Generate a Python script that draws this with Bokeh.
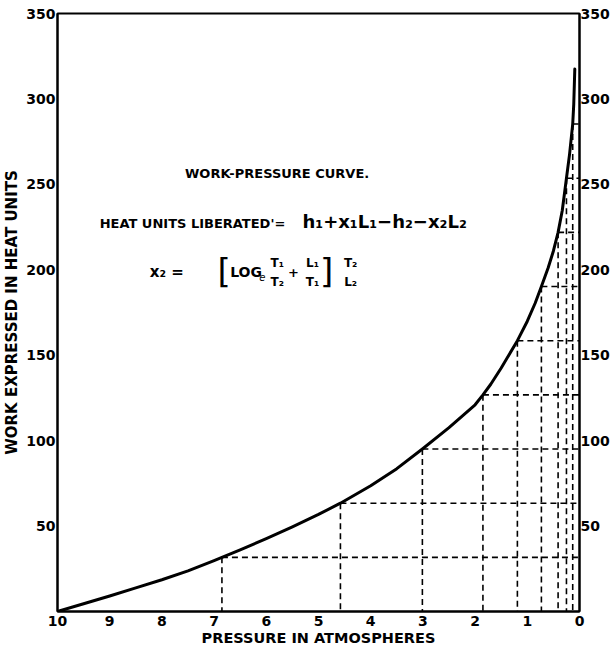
from bokeh.plotting import figure
from bokeh.models import Range1d, LinearAxis, FixedTicker, Label, ColumnDataSource
from bokeh.embed import file_html
from bokeh.resources import INLINE

# ---- data ----
pressure = [10, 9.5, 9, 8.5, 8, 7.5, 7, 6.85, 6.5, 6, 5.5, 5, 4.58, 4, 3.5, 3.01, 2.5, 2.0, 1.85,
            1.7, 1.5, 1.19, 1.0, 0.85, 0.73, 0.6, 0.5, 0.41, 0.33, 0.25, 0.19, 0.13, 0.11, 0.09]
work = [0, 4.5, 9.1, 13.8, 18.6, 23.8, 29.8, 31.7, 36.1, 42.6, 49.5, 56.8, 63.4, 73.6, 83.6, 95.1, 107.6, 121.0, 126.8,
        133.0, 142.5, 158.5, 169.9, 180.4, 190.2, 201.2, 211, 221.9, 234.7, 253.6, 267.7, 285.3, 297, 317.5]

grid_pressure = [6.85, 4.58, 3.01, 1.85, 1.19, 0.73, 0.41, 0.25, 0.13]
grid_work = [31.7, 63.4, 95.1, 126.8, 158.5, 190.2, 221.9, 253.6, 285.3]
grid_axis = [0] * len(grid_pressure)

x_ticks = [0, 1, 2, 3, 4, 5, 6, 7, 8, 9, 10]
y_ticks = [50, 100, 150, 200, 250, 300, 350]

FONT = "DejaVu Sans"

p = figure(width=612, height=649, x_range=Range1d(10, 0), y_range=Range1d(0, 350),
           output_backend="svg", toolbar_location=None,
           min_border_left=48, min_border_right=32, min_border_top=13, min_border_bottom=38)
p.background_fill_color = "white"
p.border_fill_color = "white"
p.outline_line_color = "black"
p.outline_line_width = 2
p.xgrid.visible = False
p.ygrid.visible = False

def style_axis(ax, ticks):
    ax.ticker = FixedTicker(ticks=ticks)
    ax.major_tick_in = 0
    ax.major_tick_out = 0
    ax.minor_tick_in = 0
    ax.minor_tick_out = 0
    ax.axis_line_color = "black"
    ax.axis_line_width = 2
    ax.major_label_text_font = FONT
    ax.major_label_text_font_style = "bold"
    ax.major_label_text_font_size = "14px"
    ax.major_label_text_color = "black"
    ax.major_label_standoff = 2
    ax.axis_label_text_font = FONT
    ax.axis_label_text_font_style = "bold"
    ax.axis_label_text_font_size = "14.5px"
    ax.axis_label_text_color = "black"
    ax.axis_label_standoff = 3

style_axis(p.xaxis[0], x_ticks)
p.xaxis[0].axis_label = "PRESSURE IN ATMOSPHERES"
p.xaxis[0].major_label_standoff = 4
p.xaxis[0].axis_label_standoff = 1
style_axis(p.yaxis[0], y_ticks)
p.yaxis[0].axis_label = "WORK EXPRESSED IN HEAT UNITS"
p.yaxis[0].axis_label_text_font_size = "15px"
p.yaxis[0].axis_label_standoff = 2

right = LinearAxis()
style_axis(right, y_ticks)
right.major_label_standoff = 1
p.add_layout(right, "right")

# dashed construction lines
gsrc = ColumnDataSource(dict(p=grid_pressure, w=grid_work, z=grid_axis))
p.segment(x0="p", y0="w", x1="z", y1="w", source=gsrc, line_color="black",
          line_width=1.6, line_dash="6 4")
p.segment(x0="p", y0="w", x1="p", y1="z", source=gsrc, line_color="black",
          line_width=1.6, line_dash="6 4")

# curve
p.line(pressure, work, line_color="black", line_width=3, line_join="round", line_cap="round")

# annotations (positions converted from reference pixels)
def dx(px):
    return (578 - px) / 52.0

def dy(py):
    return (610 - py) / 1.703

def lab(text, px, py, size, style="bold", align="left"):
    p.add_layout(Label(x=dx(px), y=dy(py), text=text, text_font=FONT,
                       text_font_style=style, text_font_size=size,
                       text_color="black", text_align=align, text_baseline="middle"))

lab("WORK-PRESSURE CURVE.", 185, 173, "13px")
lab("HEAT UNITS LIBERATED'=", 100, 223, "13px")
lab("h\u2081+x\u2081L\u2081\u2212h\u2082\u2212x\u2082L\u2082", 302, 221, "18px")

lab("x\u2082 =", 150, 272, "15px")
lab("[", 224, 271, "34px", style="normal", align="center")
lab("LOG", 230, 272, "14px")
lab("e", 262, 277, "10px", style="italic", align="center")
lab("T\u2081", 277, 263, "12px", align="center")
lab("T\u2082", 277, 282, "12px", align="center")
lab("+", 293, 272, "13px", align="center")
lab("L\u2081", 312, 263, "12px", align="center")
lab("T\u2081", 312, 282, "12px", align="center")
lab("]", 326, 271, "34px", style="normal", align="center")
lab("T\u2082", 350, 263, "12px", align="center")
lab("L\u2082", 350, 282, "12px", align="center")

open("out.html", "w").write(file_html(p, INLINE))
